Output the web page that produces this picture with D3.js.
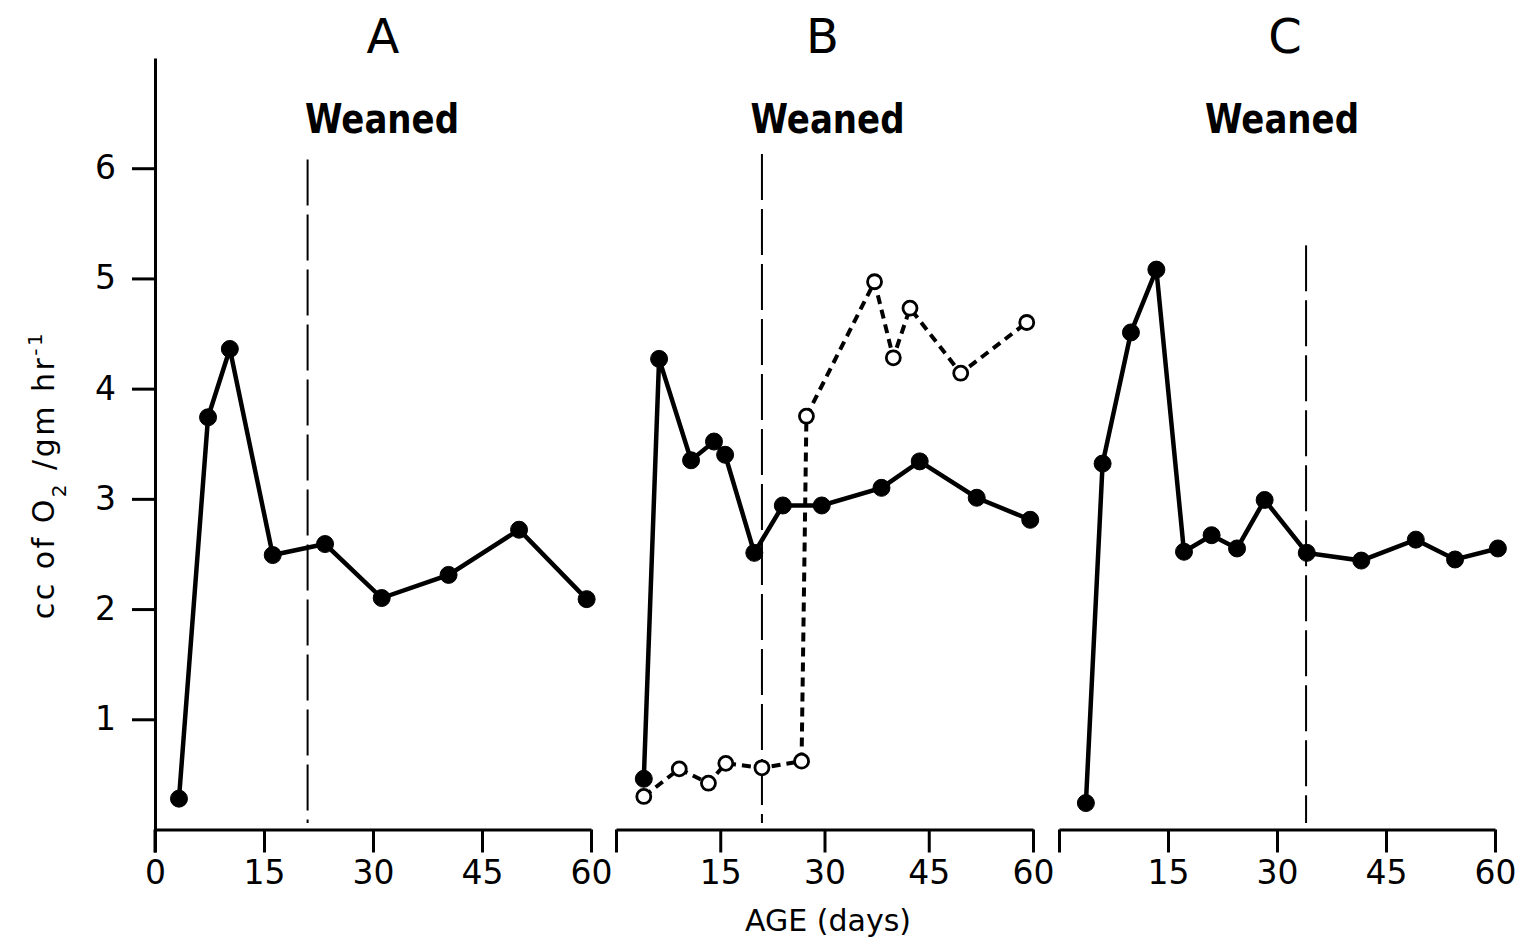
<!DOCTYPE html>
<html>
<head>
<meta charset="utf-8">
<script src="https://cdn.jsdelivr.net/npm/d3@7"></script>
<style>
  body { margin: 0; background: #fff; }
  svg { display: block; }
  text { font-family: "DejaVu Sans", sans-serif; fill: #000; }
</style>
</head>
<body>
<svg width="1524" height="943"></svg>
<script>
// values
var panelNames = ["A", "B", "C"];
var weanedDay = [21, 21, 34];

var ageA = [3.3, 7.3, 10.3, 16.2, 23.4, 31.2, 40.4, 50.1, 59.4];
var o2A  = [0.28, 3.74, 4.36, 2.49, 2.59, 2.10, 2.31, 2.72, 2.09];

var ageB = [4.0, 6.2, 10.8, 14.1, 15.7, 19.9, 24.0, 29.6, 38.2, 43.7, 51.9, 59.6];
var o2B  = [0.46, 4.27, 3.35, 3.52, 3.40, 2.51, 2.94, 2.94, 3.10, 3.34, 3.01, 2.81];

var ageBopen = [4.0, 9.1, 13.3, 15.8, 21.0, 26.7, 27.4, 37.2, 39.9, 42.3, 49.6, 59.1];
var o2Bopen  = [0.30, 0.55, 0.42, 0.60, 0.56, 0.62, 3.75, 4.97, 4.28, 4.73, 4.14, 4.60];

var ageC = [3.7, 6.0, 9.9, 13.4, 17.2, 21.0, 24.5, 28.3, 34.1, 41.6, 49.1, 54.5, 60.4];
var o2C  = [0.24, 3.32, 4.51, 5.08, 2.52, 2.67, 2.55, 2.99, 2.51, 2.44, 2.63, 2.45, 2.55];

var xTicks = [0, 15, 30, 45, 60];
var yTicks = [1, 2, 3, 4, 5, 6];

var svg = d3.select("svg");

var y = d3.scaleLinear().domain([0, 7]).range([829.5, 58]);

// one x scale per panel, the panels sit side by side
var panels = [
  { x: d3.scaleLinear().domain([0, 60]).range([155, 591]), zeroLabel: true, lineTop: 6.08,
    titleDx: 10, weanDx: 9,
    series: [{ age: ageA, val: o2A, open: false }] },
  { x: d3.scaleLinear().domain([0, 60]).range([616, 1033]), zeroLabel: false, lineTop: 6.13,
    titleDx: -2, weanDx: 3,
    series: [{ age: ageBopen, val: o2Bopen, open: true }, { age: ageB, val: o2B, open: false }] },
  { x: d3.scaleLinear().domain([0, 60]).range([1059, 1495]), zeroLabel: false, lineTop: 5.3,
    titleDx: 8, weanDx: 5,
    series: [{ age: ageC, val: o2C, open: false }] }
];

panels.forEach(function(p, i)
{
  var cx = (p.x.range()[0] + p.x.range()[1]) / 2;

  // x axis
  var xAxis = d3.axisBottom(p.x)
    .tickValues(xTicks)
    .tickSize(23)
    .tickSizeOuter(0)
    .tickPadding(8)
    .tickFormat(function(d) { return (d === 0 && !p.zeroLabel) ? "" : d; });

  var gx = svg.append("g")
    .attr("transform", "translate(0," + y(0) + ")")
    .call(xAxis);
  gx.select(".domain").attr("stroke", "#000").attr("stroke-width", 3);
  gx.selectAll(".tick line").attr("stroke", "#000").attr("stroke-width", 3);
  gx.selectAll(".tick text")
    .style("font-size", "33px")
    .style("font-family", "'DejaVu Sans', sans-serif")
    .attr("fill", "#000");

  // panel letter and "Weaned"
  svg.append("text")
    .attr("x", cx + p.titleDx).attr("y", 53)
    .attr("text-anchor", "middle")
    .style("font-size", "48px")
    .text(panelNames[i]);

  svg.append("text")
    .attr("x", cx + p.weanDx).attr("y", 133)
    .attr("text-anchor", "middle")
    .attr("textLength", 154)
    .attr("lengthAdjust", "spacingAndGlyphs")
    .style("font-size", "41px")
    .style("font-weight", "bold")
    .text("Weaned");

  // weaning line
  svg.append("line")
    .attr("x1", p.x(weanedDay[i])).attr("x2", p.x(weanedDay[i]))
    .attr("y1", y(p.lineTop)).attr("y2", y(0.06))
    .attr("stroke", "#000")
    .attr("stroke-width", 2)
    .attr("stroke-dasharray", "46,9");

  p.series.forEach(function(s)
  {
    var pts = s.age.map(function(a, j) { return { x: a, y: s.val[j] }; });

    var line = d3.line()
      .x(function(d) { return p.x(d.x); })
      .y(function(d) { return y(d.y); });

    svg.append("path")
      .datum(pts)
      .attr("d", line)
      .attr("fill", "none")
      .attr("stroke", "#000")
      .attr("stroke-width", s.open ? 4 : 4.5)
      .attr("stroke-dasharray", s.open ? "9,6" : null);

    svg.append("g")
      .selectAll("circle")
      .data(pts)
      .enter()
      .append("circle")
      .attr("cx", function(d) { return p.x(d.x); })
      .attr("cy", function(d) { return y(d.y); })
      .attr("r", s.open ? 7 : 8.5)
      .attr("fill", s.open ? "#fff" : "#000")
      .attr("stroke", "#000")
      .attr("stroke-width", s.open ? 2.8 : 1);
  });
});

// y axis, only on panel A
var yAxis = d3.axisLeft(y)
  .tickValues(yTicks)
  .tickSize(23)
  .tickSizeOuter(0)
  .tickPadding(16)
  .tickFormat(d3.format("d"));

var gy = svg.append("g")
  .attr("transform", "translate(" + panels[0].x(0) + ",0)")
  .call(yAxis);
gy.select(".domain").attr("stroke", "#000").attr("stroke-width", 3);
gy.selectAll(".tick line").attr("stroke", "#000").attr("stroke-width", 3);
gy.selectAll(".tick text")
  .style("font-size", "33px")
  .style("font-family", "'DejaVu Sans', sans-serif")
  .attr("fill", "#000");

// the zero tick of panel A runs below the axis too
svg.append("line")
  .attr("x1", panels[0].x(0)).attr("x2", panels[0].x(0))
  .attr("y1", y(0)).attr("y2", y(0) + 23)
  .attr("stroke", "#000").attr("stroke-width", 3);

// y label
var yl = svg.append("text")
  .attr("transform", "translate(54,475) rotate(-90)")
  .attr("text-anchor", "middle")
  .style("font-size", "30px")
  .style("letter-spacing", "2.5px");
yl.append("tspan").text("cc of O");
yl.append("tspan").attr("baseline-shift", "sub").style("font-size", "20px").text("2");
yl.append("tspan").text(" /gm hr");
yl.append("tspan").attr("baseline-shift", "super").style("font-size", "20px").text("-1");

// x label
svg.append("text")
  .attr("x", 828).attr("y", 931)
  .attr("text-anchor", "middle")
  .style("font-size", "30px")
  .text("AGE (days)");
</script>
</body>
</html>
